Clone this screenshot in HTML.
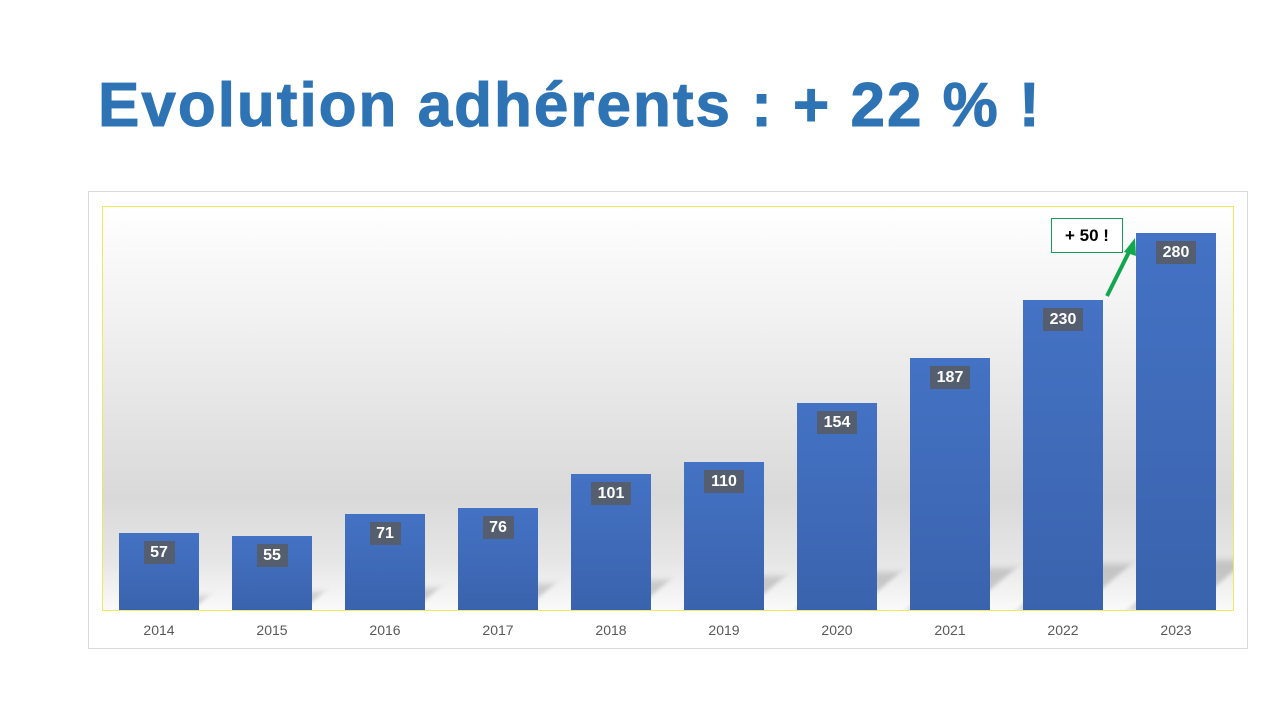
<!DOCTYPE html>
<html><head><meta charset="utf-8"><style>
body{margin:0;width:1280px;height:720px;background:#fff;position:relative;overflow:hidden;font-family:"Liberation Sans",sans-serif}
.t{position:absolute;left:98px;top:70px;font-size:62px;font-weight:bold;color:#2e74b5;letter-spacing:2px;white-space:nowrap;-webkit-text-stroke:1px #2e74b5}
.frame{position:absolute;left:88px;top:191px;width:1158px;height:456px;border:1px solid #d9d9d9;background:#fff}
.plot{position:absolute;left:102px;top:206px;width:1130px;height:403px;border:1px solid #f0e860;background:linear-gradient(to bottom,#fff 0%,#f0f0f0 30%,#d9d9d9 72%,#e6e6e6 88%,#fafafa 100%);overflow:hidden}
.bar{position:absolute;width:80px;background:linear-gradient(to bottom,#4472c4,#3a63ad);}
.lab{position:absolute;background:#555e6e;color:#fff;font-weight:bold;font-size:16px;height:23px;line-height:23px;text-align:center;padding:0 3px}
.yr{position:absolute;top:622px;width:80px;text-align:center;font-size:14px;color:#595959}
.sh{position:absolute;background:rgba(110,110,110,0.3);filter:blur(3px);transform:skewX(-50deg)}
</style></head><body>
<div class="t">Evolution adhérents : + 22 % !</div>
<div class="frame"></div>
<div class="plot" id="p"></div>
<div id="c"></div>
<div style="position:absolute;left:1051px;top:218px;width:70px;height:33px;border:1px solid #1a9a5a;background:#fff;font-weight:bold;font-size:17px;line-height:33px;text-align:center">+ 50 !</div>
<svg style="position:absolute;left:0;top:0" width="1280" height="720"><line x1="1107" y1="296" x2="1130" y2="250" stroke="#12a74e" stroke-width="4"/><polygon points="1135,238 1124,252 1136,256" fill="#12a74e"/></svg>
<script>
var v=[57,55,71,76,101,110,154,187,230,280],y=2014,h='',s='';
v.forEach(function(d,i){var x=119+i*113,hh=Math.round(d*1.346),top=610-hh;
var sh=14+i*4;
s+='<div class="sh" style="left:'+(x-102+20)+'px;top:'+(403-sh)+'px;width:60px;height:'+sh+'px"></div>';
h+='<div class="bar" style="left:'+x+'px;top:'+top+'px;height:'+hh+'px"></div>';
var w=d>=100?34:25;
h+='<div class="lab" style="left:'+(x+40-w/2-3)+'px;top:'+(top+8)+'px;width:'+w+'px">'+d+'</div>';
h+='<div class="yr" style="left:'+x+'px">'+(y+i)+'</div>';});
document.getElementById('c').innerHTML=h;
document.getElementById('p').innerHTML=s;
</script>
</body></html>
